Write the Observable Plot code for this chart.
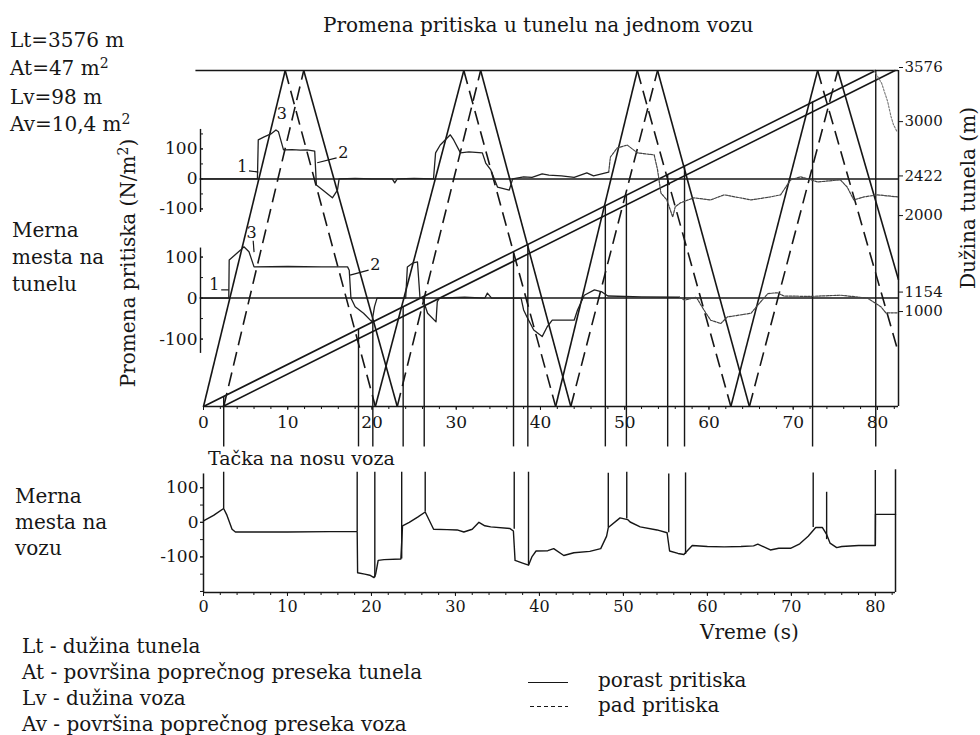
<!DOCTYPE html>
<html>
<head>
<meta charset="utf-8">
<script src="https://cdn.jsdelivr.net/npm/d3@7"></script>
<script src="https://cdn.jsdelivr.net/npm/@observablehq/plot@0.6"></script>
<style>
html,body{margin:0;padding:0;background:#fff;}
#wrap{position:relative;width:980px;height:735px;overflow:hidden;background:#fff;font-family:"DejaVu Serif","Liberation Serif",serif;color:#161616;}
.t{position:absolute;white-space:nowrap;line-height:1;}
.layer{position:absolute;left:0;}
.layer svg{overflow:visible;background:transparent;}
sup{font-size:0.7em;vertical-align:0.5em;line-height:0;}
</style>
</head>
<body>
<div id="wrap"></div>
<script>
// ---------------- DATA ----------------
const titleText = "Promena pritiska u tunelu na jednom vozu";
const tunnelParams = ["Lt=3576 m", "At=47 m<sup>2</sup>", "Lv=98 m", "Av=10,4 m<sup>2</sup>"];
const tunnelLength = 3576;
const timeTicks = [0, 10, 20, 30, 40, 50, 60, 70, 80];
const minorTimeTicks = [0,2,4,6,8,10,12,14,16,18,20,22,24,26,28,30,32,34,36,38,40,42,44,46,48,50,52,54,56,58,60,62,64,66,68,70,72,74,76,78,80,82];
const distanceTicks = [1000, 1154, 2000, 2422, 3000, 3576];
const measurePoints = [2422, 1154];
const pressureLabelTicks = [-100, 0, 100];
const pressureMinorTicks = [-100, -50, 0, 50, 100, 150];
const lowerPressureMinorTicks = [-100, -50, 0, 50, 100];
const noseMinorTicks = [-200, -150, -100, -50, 0, 50, 100];

// wave fronts (time s, distance m) – vertices of the two reflected wave families
const waveFamilyA = [[0,0],[9.7,3576],[20.4,0],[30.9,3576],[41.8,0],[51.5,3576],[62.6,0],[72.9,3576],[82.5,570]];
const waveFamilyB = [[2.4,0],[11.9,3576],[23.0,0],[32.9,3576],[43.6,0],[53.9,3576],[64.8,0],[75.3,3576],[82.5,1350]];
// train nose and tail trajectories
const trainNose = [[0,0],[79.8,3576]];
const trainTail = [[2.3,0],[82.1,3576]];
// instants when waves meet the train nose
const noseCrossTimes = [2.4, 18.4, 20.1, 23.7, 26.2, 36.8, 38.5, 47.7, 50.2, 55.1, 57.1, 72.3, 79.8];
// faint trace near tunnel exit (time, distance)
const exitTrace = [[79.6,3576],[80.1,3500],[80.5,3440],[80.9,3330],[81.2,3250],[81.6,3090],[81.9,3000],[82.3,2930]];

// pressure at measuring point 2422 m (time s, Pa)
const upperTrace = [[0,0],[6.4,0],[6.5,130],[7.2,140],[8.0,150],[8.6,163],[8.9,157],[9.5,97],[10.5,98],[11.5,96],[12.3,97],[13.2,93],[13.4,-20],[14.3,-40],[15.3,-63],[15.9,-37],[16.1,0],[18,2],[20,0],[22.4,0],[22.7,-13],[23.0,0],[25,2],[27.3,0],[27.55,87],[28.1,113],[29.3,147],[29.7,130],[30.5,87],[31.5,90],[33.1,87],[33.5,53],[34.1,30],[34.9,-27],[36.3,-37],[36.7,0],[38,7],[39,5],[40.2,17],[41,13],[42.5,10],[44,5],[45.5,20],[46.3,10],[48.1,23],[48.3,73],[49.1,103],[50.3,113],[51.5,87],[53.5,80],[53.9,30],[54.3,-47],[55.0,-70],[55.7,-127],[56.0,-93],[56.6,-80],[58.2,-63],[60.2,-70],[61.8,-53],[63.5,-62],[65,-70],[67.3,-60],[68.5,-53],[69.7,-3],[70.9,7],[72.9,-10],[75.6,-3],[76.4,-27],[77.2,-70],[78.4,-60],[80,-53],[82.4,-60]];
// pressure at measuring point 1154 m (time s, Pa)
const lowerTrace = [[0,0],[3.0,0],[3.05,93],[4.4,117],[4.8,125],[5.4,113],[6.0,76],[10,77],[14,76],[17.1,76],[17.3,68],[17.5,0],[18.0,-21],[19.0,-37],[20.0,-58],[20.3,-21],[20.6,0],[24.0,0],[24.2,76],[24.8,85],[25.4,88],[25.7,0],[26.0,0],[26.6,-37],[27.6,-58],[27.75,-9],[28,0],[31,2],[33.4,0],[33.7,12],[34.2,0],[37.7,0],[38.0,-29],[38.4,-46],[39.2,-78],[40.2,-94],[40.8,-70],[41.4,-54],[44.0,-54],[44.4,-29],[45.2,7],[46.4,20],[47.3,15],[48,5],[52,3],[56.5,2],[57.1,-5],[58.5,2],[59.4,-29],[60.2,-54],[61.4,-62],[62.2,-46],[65.0,-37],[65.8,-17],[67.0,11],[68.1,13],[68.9,5],[72,4],[75.6,7],[78.8,0],[80.4,-21],[81.0,-36],[82.4,-36]];
// pressure at the train nose (time s, Pa)
const noseTrace = [[0,4],[1.2,20],[2.4,40],[2.8,20],[3.4,-20],[3.8,-28],[10,-28],[15,-27],[18.3,-27],[18.35,-146],[19.2,-150],[19.8,-153],[20.3,-160],[20.5,-150],[20.8,-110],[21.5,-108],[23.5,-106],[23.7,-10],[24.5,0],[25.5,15],[26.4,30],[27.4,-20],[29,-21],[30.2,-22],[31,-28],[32,-20],[32.8,0],[33.5,-10],[34.2,-13],[36.5,-18],[36.9,-25],[37.1,-110],[38.0,-118],[38.7,-124],[39.1,-100],[39.6,-83],[41,-82],[41.7,-76],[42.9,-96],[44.1,-88],[46,-84],[47.3,-76],[48.0,-40],[48.2,-15],[49.6,13],[50.5,8],[50.8,1],[52,-13],[54,-22],[55.2,-30],[55.5,-83],[56.5,-90],[57.2,-93],[57.5,-85],[58.2,-67],[60,-70],[62,-71],[64,-70],[65.5,-68],[66,-63],[67.5,-80],[68.5,-75],[69.9,-75],[71,-62],[72,-40],[72.9,-15],[73.7,-15],[74.2,-35],[74.6,-60],[75.4,-73],[76,-70],[78,-67],[80,-67],[80.02,23],[82.4,23]];
// vertical marks on the nose record: [time, from Pa, to Pa]
const noseSpikes = [[2.4,40,145],[18.3,-27,145],[20.4,-160,145],[23.6,-106,145],[26.4,30,145],[37.0,-20,145],[38.7,-124,145],[48.2,-15,142],[50.4,10,145],[55.4,-30,140],[57.4,-93,143],[72.6,-15,143],[74.2,-50,87],[80.0,-67,150]];

// curve labels [time, Pa, text] and leaders [t1,p1,t2,p2]
const upperLabels = [[4.6,40,"1"],[16.6,88,"2"],[9.3,218,"3"]];
const upperLeaders = [[5.4,27,6.5,23],[13.5,54,15.8,70]];
const lowerLabels = [[1.3,32,"1"],[20.4,80,"2"],[5.7,160,"3"]];
const lowerLeaders = [[2.1,20,3.0,20],[17.4,56,19.6,68],[5.9,140,6.0,112]];

const leftTopNote = ["Merna", "mesta na", "tunelu"];
const leftBottomNote = ["Merna", "mesta na", "vozu"];
const glossary = ["Lt - dužina tunela", "At - površina poprečnog preseka tunela", "Lv - dužina voza", "Av - površina poprečnog preseka voza"];
const legendItems = ["porast pritiska", "pad pritiska"];

// ---------------- LAYOUT ----------------
const ink = "#161616";
const FONT = '"DejaVu Serif", "Liberation Serif", serif';
const wrap = document.getElementById("wrap");
const W = 980, H1 = 450, mL = 203, mR = 82, mT = 70, mB = 44;
const xMax = 82.5;
const frameBottom = H1 - mB, frameTop = mT;
const pxPerM = (frameBottom - frameTop) / tunnelLength;
const upperZero = frameBottom - measurePoints[0] * pxPerM;
const lowerZero = frameBottom - measurePoints[1] * pxPerM;
const upperPxPerPa = 0.30, lowerPxPerPa = 0.41;
const trainSpeed = tunnelLength / trainNose[1][0];
const upperFaintFrom = 48.1, lowerFaintFrom = 56.5;

function addLayer(svg, top) {
  const d = document.createElement("div");
  d.className = "layer"; d.style.top = top + "px";
  d.appendChild(svg); wrap.appendChild(d);
}
function addText(html, x, baseline, fs, extra) {
  const d = document.createElement("div");
  d.className = "t"; d.innerHTML = html;
  d.style.left = x + "px"; d.style.top = (baseline - 0.846 * fs) + "px"; d.style.fontSize = fs + "px";
  if (extra) Object.assign(d.style, extra);
  wrap.appendChild(d); return d;
}
function addRotated(html, cx, cy, fs) {
  const d = document.createElement("div");
  d.className = "t"; d.innerHTML = html;
  d.style.left = cx + "px"; d.style.top = cy + "px"; d.style.fontSize = fs + "px";
  d.style.transform = "translate(-50%,-50%) rotate(-90deg)";
  wrap.appendChild(d);
}
const baseStyle = {fontFamily: FONT, fontSize: "15px", color: ink, background: "transparent", overflow: "visible"};

function segments(verts, firstSolid) {
  const out = [];
  for (let i = 0; i < verts.length - 1; i++) {
    const solid = (i % 2 === 0) === firstSolid;
    out.push({x1: verts[i][0], y1: verts[i][1], x2: verts[i+1][0], y2: verts[i+1][1], solid});
  }
  return out;
}
const waveSegs = segments(waveFamilyA, true).concat(segments(waveFamilyB, false));
const rightAxisOpts = {anchor: "right", tickSize: 4, tickPadding: 2, tickFormat: d => String(d), fontSize: 15, label: null, stroke: ink, fill: ink};

// ---------- main distance–time panel ----------
const mainPlot = Plot.plot({
  width: W, height: H1, marginLeft: mL, marginRight: mR, marginTop: mT, marginBottom: mB,
  x: {domain: [0, xMax], axis: null},
  y: {domain: [0, tunnelLength], axis: null},
  style: baseStyle,
  marks: [
    Plot.axisX({ticks: minorTimeTicks, tickSize: 3, tickFormat: () => "", label: null, stroke: ink}),
    Plot.axisX({ticks: timeTicks, tickSize: 4, tickPadding: 5, fontSize: 17, label: null, stroke: ink, fill: ink}),
    Plot.axisY({...rightAxisOpts, ticks: distanceTicks.filter(d => d !== 1154 && d !== 1000), dy: -3}),
    Plot.axisY({...rightAxisOpts, ticks: [distanceTicks[1]], dy: -6}),
    Plot.axisY({...rightAxisOpts, ticks: [distanceTicks[0]], dy: -1}),
    Plot.ruleY([0], {x1: 0, x2: xMax, stroke: ink, strokeWidth: 1.6}),
    Plot.ruleY([tunnelLength], {x1: -0.9, x2: xMax, stroke: ink, strokeWidth: 1.6}),
    Plot.ruleX([xMax], {y1: 0, y2: tunnelLength, stroke: ink, strokeWidth: 1.5}),
    Plot.ruleY(measurePoints, {x1: -0.4, x2: xMax, stroke: ink, strokeWidth: 1.5}),
    Plot.ruleX(noseCrossTimes, {x: d => d, y1: -430, y2: d => Math.min(tunnelLength, d * trainSpeed), stroke: ink, strokeWidth: 1.4}),
    Plot.line(trainNose, {x: d => d[0], y: d => d[1], stroke: ink, strokeWidth: 1.6}),
    Plot.line(trainTail, {x: d => d[0], y: d => d[1], stroke: ink, strokeWidth: 1.6}),
    Plot.link(waveSegs.filter(d => d.solid), {x1: "x1", y1: "y1", x2: "x2", y2: "y2", stroke: ink, strokeWidth: 1.6}),
    Plot.link(waveSegs.filter(d => !d.solid), {x1: "x1", y1: "y1", x2: "x2", y2: "y2", stroke: ink, strokeWidth: 1.6, strokeDasharray: "14,7"}),
    Plot.line(exitTrace, {x: d => d[0], y: d => d[1], stroke: "#777", strokeWidth: 1.1, strokeDasharray: "2,1.5"})
  ]
});
addLayer(mainPlot, 0);

// ---------- pressure overlay at 2422 m ----------
const upperOverlay = Plot.plot({
  width: W, height: H1, marginLeft: mL, marginRight: mR, marginTop: mT, marginBottom: mB,
  x: {domain: [0, xMax], axis: null},
  y: {domain: [(upperZero - frameBottom) / upperPxPerPa, (upperZero - frameTop) / upperPxPerPa], axis: null},
  style: baseStyle,
  marks: [
    Plot.ruleX([0], {y1: -112, y2: 165, dx: -3, stroke: ink, strokeWidth: 1.4}),
    Plot.axisY({ticks: pressureMinorTicks, tickSize: 3, tickFormat: () => "", label: null, stroke: ink}),
    Plot.axisY({ticks: pressureLabelTicks, tickSize: 3, tickPadding: 3, tickFormat: d => String(d), fontSize: 17, label: null, stroke: ink, fill: ink}),
    Plot.line(upperTrace.filter(d => d[0] <= upperFaintFrom), {x: d => d[0], y: d => d[1], stroke: "#202020", strokeWidth: 1.3}),
    Plot.line(upperTrace.filter(d => d[0] >= upperFaintFrom), {x: d => d[0], y: d => d[1], stroke: "#444", strokeWidth: 1.2, strokeDasharray: "2.5,1.2"}),
    Plot.link(upperLeaders, {x1: d => d[0], y1: d => d[1], x2: d => d[2], y2: d => d[3], stroke: ink, strokeWidth: 1.2}),
    Plot.text(upperLabels, {x: d => d[0], y: d => d[1], text: d => d[2], fontSize: 16, fill: ink})
  ]
});
addLayer(upperOverlay, 0);

// ---------- pressure overlay at 1154 m ----------
const lowerOverlay = Plot.plot({
  width: W, height: H1, marginLeft: mL, marginRight: mR, marginTop: mT, marginBottom: mB,
  x: {domain: [0, xMax], axis: null},
  y: {domain: [(lowerZero - frameBottom) / lowerPxPerPa, (lowerZero - frameTop) / lowerPxPerPa], axis: null},
  style: baseStyle,
  marks: [
    Plot.ruleX([0], {y1: -135, y2: 122, dx: -3, stroke: ink, strokeWidth: 1.4}),
    Plot.axisY({ticks: lowerPressureMinorTicks, tickSize: 3, tickFormat: () => "", label: null, stroke: ink}),
    Plot.axisY({ticks: pressureLabelTicks, tickSize: 3, tickPadding: 3, tickFormat: d => String(d), fontSize: 17, label: null, stroke: ink, fill: ink}),
    Plot.line(lowerTrace.filter(d => d[0] <= lowerFaintFrom), {x: d => d[0], y: d => d[1], stroke: "#202020", strokeWidth: 1.3}),
    Plot.line(lowerTrace.filter(d => d[0] >= lowerFaintFrom), {x: d => d[0], y: d => d[1], stroke: "#444", strokeWidth: 1.2, strokeDasharray: "2.5,1.2"}),
    Plot.link(lowerLeaders, {x1: d => d[0], y1: d => d[1], x2: d => d[2], y2: d => d[3], stroke: ink, strokeWidth: 1.2}),
    Plot.text(lowerLabels, {x: d => d[0], y: d => d[1], text: d => d[2], fontSize: 16, fill: ink})
  ]
});
addLayer(lowerOverlay, 0);

// ---------- nose pressure panel ----------
const lowerXMax = 82.4;
const nosePlot = Plot.plot({
  width: W, height: 190, marginLeft: 203, marginRight: 85, marginTop: 30, marginBottom: 38,
  x: {domain: [0, lowerXMax], axis: null},
  y: {domain: [-203, 150], axis: null},
  style: baseStyle,
  marks: [
    Plot.axisX({ticks: minorTimeTicks.filter(d => d <= lowerXMax), tickSize: 3, tickFormat: () => "", label: null, stroke: ink}),
    Plot.axisX({ticks: timeTicks, tickSize: 4, tickPadding: 4, fontSize: 16, label: null, stroke: ink, fill: ink}),
    Plot.axisY({ticks: noseMinorTicks, tickSize: 3, tickFormat: () => "", label: null, stroke: ink}),
    Plot.axisY({ticks: pressureLabelTicks, tickSize: 3, tickPadding: 2, tickFormat: d => String(d), fontSize: 17, label: null, stroke: ink, fill: ink}),
    Plot.ruleX([0], {y1: -203, y2: 140, stroke: ink, strokeWidth: 1.5}),
    Plot.ruleY([-203], {x1: 0, x2: lowerXMax, stroke: ink, strokeWidth: 1.5}),
    Plot.ruleX([lowerXMax], {y1: -203, y2: 152, stroke: ink, strokeWidth: 1.5}),
    Plot.ruleX(noseSpikes, {x: d => d[0], y1: d => d[1], y2: d => d[2], stroke: ink, strokeWidth: 1.4}),
    Plot.line(noseTrace, {x: d => d[0], y: d => d[1], stroke: ink, strokeWidth: 1.4})
  ]
});
addLayer(nosePlot, 440);

// ---------- texts ----------
addText(titleText, 323, 32, 20);
const paramBaselines = [47, 75, 104, 131];
tunnelParams.forEach((s, i) => addText(s, 10, paramBaselines[i], 20));
leftTopNote.forEach((s, i) => addText(s, 12, 237 + i * 27, 20));
leftBottomNote.forEach((s, i) => addText(s, 15, 503 + i * 26, 20));
addRotated("Promena pritiska (N/m<sup>2</sup>)", 128, 263, 20);
addRotated("Dužina tunela (m)", 968, 198, 20);
addText("Tačka na nosu voza", 208, 465, 19);
addText("Vreme (s)", 700, 639, 20);
glossary.forEach((s, i) => addText(s, 22, 653 + i * 26, 20));
// legend
const solidKey = document.createElement("div");
Object.assign(solidKey.style, {position: "absolute", left: "528px", top: "682px", width: "40px", height: "0", borderTop: "1.4px solid " + ink});
wrap.appendChild(solidKey);
const dashKey = document.createElement("div");
Object.assign(dashKey.style, {position: "absolute", left: "530px", top: "706px", width: "38px", height: "1.4px",
  background: "repeating-linear-gradient(90deg," + ink + " 0 4px, transparent 4px 7px)"});
wrap.appendChild(dashKey);
addText(legendItems[0], 598, 687, 20);
addText(legendItems[1], 598, 712, 20);
</script>
</body>
</html>
